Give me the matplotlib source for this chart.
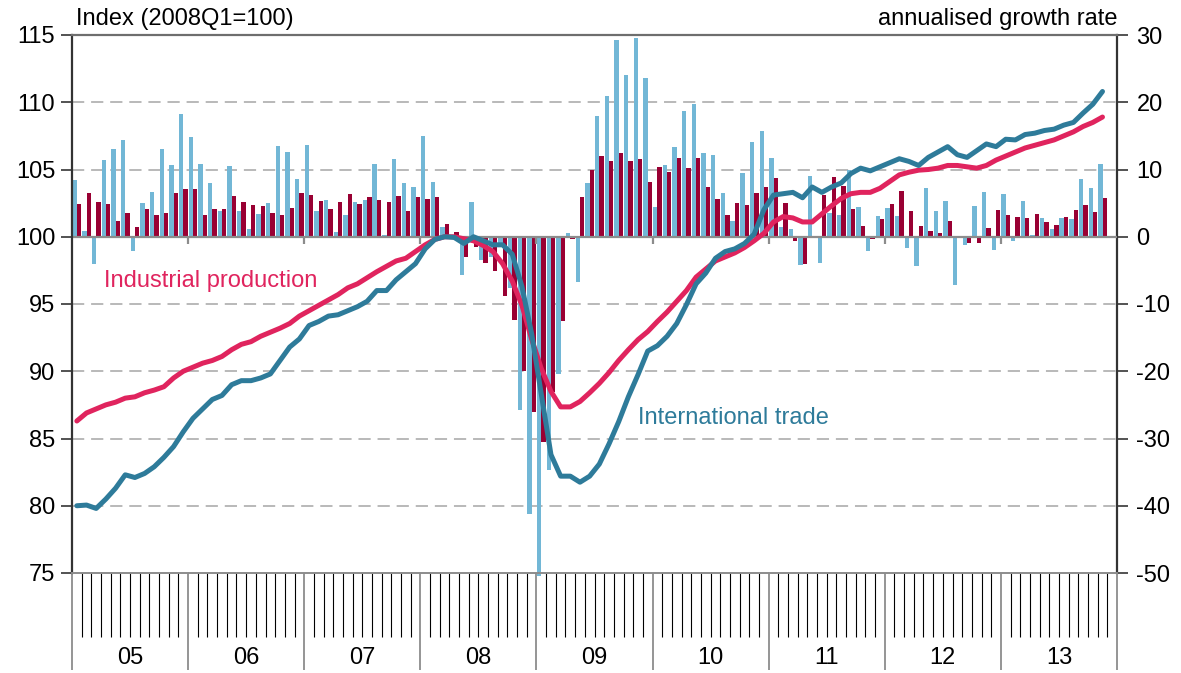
import matplotlib.pyplot as plt
import numpy as np

plt.rcParams['font.family'] = ['Liberation Sans', 'DejaVu Sans']
plt.rcParams['axes.unicode_minus'] = False

year_labels = ['05', '06', '07', '08', '09', '10', '11', '12', '13']

# annualised growth rates (right axis), Jan 2005 .. Nov 2013
trade_growth = [
    8.4, 0.8, -4.1, 11.4, 13.0, 14.4, -2.1, 5.0, 6.6, 13.0, 10.6, 18.3,
    14.8, 10.8, 8.0, 3.9, 10.5, 3.9, 1.1, 3.4, 5.0, 13.5, 12.6, 8.6,
    13.6, 3.8, 5.4, 0.7, 3.2, 5.1, 5.4, 10.8, 0.2, 11.5, 8.0, 7.4,
    15.0, 8.1, 1.4, 0.0, -5.7, 5.1, -3.4, -3.0, -1.0, -7.6, -25.7, -41.3,
    -50.5, -34.7, -20.4, 0.5, -6.7, 8.0, 17.9, 21.0, 29.2, 24.0, 29.5, 23.6,
    4.4, 10.6, 13.3, 18.7, 19.7, 12.4, 12.1, 6.5, 2.3, 9.5, 14.1, 15.7,
    11.7, 1.4, 1.1, -4.2, 9.0, -3.9, 3.5, 3.2, 10.0, 4.4, -2.1, 3.1,
    4.3, 3.1, -1.7, -4.4, 7.2, 3.8, 5.3, -7.2, -1.2, 4.6, 6.6, -1.9,
    6.3, -0.7, 5.3, 0.2, 2.8, 1.1, 2.8, 2.6, 8.6, 7.2, 10.8,
]
ip_growth = [
    4.9, 6.5, 5.1, 4.8, 2.4, 3.6, 1.4, 4.1, 3.3, 3.6, 6.5, 7.1,
    7.1, 3.3, 4.2, 4.1, 6.0, 5.1, 4.7, 4.5, 3.5, 3.2, 4.3, 6.5,
    6.2, 5.3, 4.1, 5.1, 6.3, 4.9, 5.9, 5.4, 5.1, 6.0, 3.8, 5.9,
    5.6, 5.9, 1.9, 0.7, -3.0, -1.5, -3.9, -5.1, -8.8, -12.4, -20.0, -26.1,
    -30.5, -23.1, -12.6, -0.3, 5.9, 9.9, 12.0, 11.2, 12.4, 11.2, 11.5, 8.1,
    10.3, 9.6, 11.7, 10.2, 11.7, 7.4, 5.6, 3.2, 5.0, 4.7, 6.5, 7.4,
    8.7, 5.0, -0.7, -4.1, 0.1, 6.2, 8.9, 7.5, 4.1, 1.6, -0.3, 2.6,
    4.9, 6.8, 3.8, 1.6, 0.8, 0.5, 2.3, 0.1, -1.0, -1.0, 1.3, 4.0,
    3.2, 2.9, 2.8, 3.4, 2.2, 1.7, 2.9, 4.0, 4.7, 3.7, 5.7,
]

# index levels, 2008Q1=100 (left axis)
ip_index = [
    86.3, 86.9, 87.2, 87.5, 87.7, 88.0, 88.1, 88.4, 88.6, 88.85, 89.5, 90.0,
    90.3, 90.6, 90.8, 91.1, 91.6, 92.0, 92.2, 92.6, 92.9, 93.2, 93.55, 94.1,
    94.5, 94.9, 95.3, 95.7, 96.2, 96.5, 96.95, 97.4, 97.8, 98.2, 98.4, 98.9,
    99.4, 99.8, 100.0, 100.0, 99.85, 99.7, 99.35, 98.9, 98.0, 96.7, 94.9, 92.4,
    90.2, 88.5, 87.35, 87.35, 87.75, 88.4, 89.1, 89.9, 90.8, 91.6, 92.35, 92.95,
    93.7, 94.4, 95.2, 96.0, 97.0, 97.6, 98.2, 98.5, 98.8, 99.2, 99.7, 100.25,
    101.1, 101.5, 101.4, 101.1, 101.1, 101.7, 102.3, 102.85, 103.2, 103.3, 103.3, 103.6,
    104.1, 104.6, 104.8, 104.95, 105.0, 105.1, 105.3, 105.3, 105.2, 105.1, 105.3, 105.7,
    106.0, 106.3, 106.6, 106.8, 107.0, 107.2, 107.5, 107.8, 108.2, 108.5, 108.9,
]
trade_index = [
    80.0, 80.05, 79.8, 80.5, 81.3, 82.3, 82.1, 82.4, 82.9, 83.6, 84.4, 85.5,
    86.5, 87.2, 87.9, 88.2, 89.0, 89.3, 89.3, 89.5, 89.8, 90.8, 91.8, 92.4,
    93.4, 93.7, 94.1, 94.2, 94.5, 94.8, 95.2, 96.0, 96.0, 96.8, 97.4, 98.0,
    99.1, 99.8, 100.0, 99.95, 99.5, 100.0, 99.7, 99.4, 99.4, 98.7, 96.3, 92.8,
    88.3, 83.8, 82.2, 82.2, 81.75, 82.2, 83.1, 84.6, 86.25, 88.1, 89.75, 91.5,
    91.9, 92.6, 93.55, 94.95, 96.5, 97.3, 98.4, 98.9, 99.1, 99.5, 100.2, 102.0,
    103.1, 103.2, 103.3, 102.9, 103.7, 103.3, 103.7, 104.0, 104.7, 105.1, 104.9, 105.2,
    105.5, 105.8, 105.6, 105.3, 105.9, 106.3, 106.7, 106.1, 105.9, 106.4, 106.9, 106.7,
    107.25, 107.2, 107.6, 107.7, 107.9, 108.0, 108.3, 108.5, 109.2, 109.85, 110.8,
]

c_bar_trade = '#72b7d6'
c_bar_ip = '#990033'
c_line_ip = '#e0245e'
c_line_trade = '#2e7b9a'
grey = '#8c8c8c'
fs = 17

x = np.arange(len(ip_index))
n_months = 12 * len(year_labels)

fig = plt.figure(figsize=(11.81, 6.73), dpi=100)
ax = fig.add_axes([72 / 1181, 1 - 573 / 673, 1045 / 1181, 538 / 673])
ax2 = ax.twinx()

# bars on the growth-rate axis
for v in [-40, -30, -20, -10, 10, 20]:
    ax2.axhline(v, color='#a6a6a6', lw=1.1, ls=(0, (8, 4.5)), zorder=0)
ax2.bar(x + 0.28, trade_growth, width=0.45, color=c_bar_trade, zorder=2, clip_on=False)
ax2.bar(x + 0.73, ip_growth, width=0.45, color=c_bar_ip, zorder=2, clip_on=False)
ax2.axhline(0, color=grey, lw=1.6, zorder=3)
ax2.vlines(np.arange(12, n_months, 12), -1.1, 0, color=grey, lw=1.6, zorder=3)
ax2.set_ylim(-50, 30)
ax2.set_yticks(range(-50, 31, 10))

# index lines on top
ax.set_zorder(ax2.get_zorder() + 1)
ax.patch.set_visible(False)
ax.plot(x + 0.5, ip_index, color=c_line_ip, lw=3.6, solid_capstyle='round')
ax.plot(x + 0.5, trade_index, color=c_line_trade, lw=3.6, solid_capstyle='round')
ax.set_ylim(75, 115)
ax.set_yticks(range(75, 116, 5))
ax.set_xlim(0, n_months)

ax.text(3.3, 96.7, 'Industrial production', color=c_line_ip, fontsize=fs, va='center')
ax.text(58.5, 86.5, 'International trade', color=c_line_trade, fontsize=fs, va='center')

# x axis: month ticks and year ticks below the plot
ax.set_xticks(np.arange(0, n_months + 1, 12))
ax.set_xticks(np.arange(0, n_months + 1, 1), minor=True)
ax.tick_params(axis='x', which='major', length=70, width=1.3, color=grey, labelbottom=False)
ax.tick_params(axis='x', which='minor', length=46, width=0.8, color='black')
for i, lab in enumerate(year_labels):
    ax.text(12 * i + 6, -0.158, lab, transform=ax.get_xaxis_transform(),
            ha='center', va='center', fontsize=fs)

ax.tick_params(axis='y', length=8, width=1.3, color='#444444', labelsize=fs, pad=4)
ax2.tick_params(axis='y', length=8, width=1.3, color='#444444', labelsize=fs, pad=6)

ax.spines['left'].set_color('#333333')
ax.spines['left'].set_linewidth(1.6)
ax.spines['right'].set_visible(False)
ax.spines['top'].set_color('#6e6e6e')
ax.spines['top'].set_linewidth(1.6)
ax.spines['bottom'].set_color(grey)
ax.spines['bottom'].set_linewidth(1.4)
for s in ['left', 'top', 'bottom']:
    ax2.spines[s].set_visible(False)
ax2.spines['right'].set_color('#333333')
ax2.spines['right'].set_linewidth(1.6)

fig.text(76 / 1181, 1 - 19 / 673, 'Index (2008Q1=100)', fontsize=fs, ha='left', va='center')
fig.text(1118 / 1181, 1 - 19 / 673, 'annualised growth rate', fontsize=fs, ha='right', va='center')

fig.savefig('out.png', dpi=100)
